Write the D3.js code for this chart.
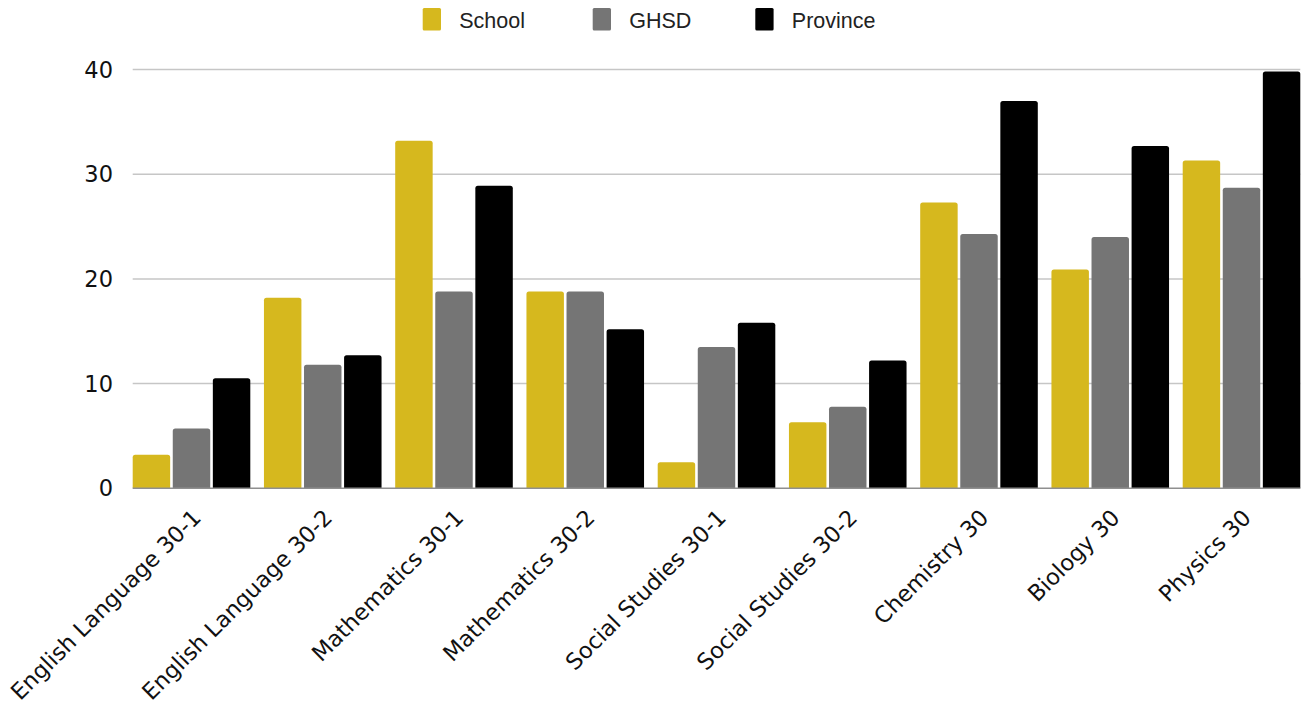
<!DOCTYPE html>
<html>
<head>
<meta charset="utf-8">
<script src="https://cdn.jsdelivr.net/npm/d3@7"></script>
<style>
  html, body { margin: 0; padding: 0; background: #fff; }
  svg { display: block; }
</style>
</head>
<body>
<svg id="chart" width="1302" height="712"></svg>
<script>
const categories = ["English Language 30-1", "English Language 30-2", "Mathematics 30-1", "Mathematics 30-2",
  "Social Studies 30-1", "Social Studies 30-2", "Chemistry 30", "Biology 30", "Physics 30"];
const seriesNames = ["School", "GHSD", "Province"];
const school   = [3.2, 18.2, 33.2, 18.8, 2.5, 6.3, 27.3, 20.9, 31.3];
const ghsd     = [5.7, 11.8, 18.8, 18.8, 13.5, 7.8, 24.3, 24.0, 28.7];
const province = [10.5, 12.7, 28.9, 15.2, 15.8, 12.2, 37.0, 32.7, 39.8];
const yTicks = [0, 10, 20, 30, 40];
const colors = ["#d6b81e", "#757575", "#000000"];

(function () {
const seriesValues = [school, ghsd, province];
const svg = d3.select("#chart");
const plotLeft = 132.7, plotRight = 1300.3, plotTop = 69.5, plotBottom = 488.3;
const axisFont = "'DejaVu Sans', 'Open Sans', sans-serif";

const x0 = d3.scaleBand().domain(categories).range([plotLeft, plotRight]).paddingInner(0.104).paddingOuter(0);
const x1 = d3.scaleBand().domain(seriesNames).range([0, x0.bandwidth()]).paddingInner(0.065).paddingOuter(0);
const y = d3.scaleLinear().domain([0, 40]).range([plotBottom, plotTop]);

// gridlines
svg.append("g").selectAll("line").data(yTicks.filter(d => d !== 0)).join("line")
  .attr("x1", plotLeft).attr("x2", plotRight)
  .attr("y1", d => y(d)).attr("y2", d => y(d))
  .attr("stroke", "#c6c6c6").attr("stroke-width", 1.5);

// y tick labels
svg.append("g").selectAll("text").data(yTicks).join("text")
  .attr("x", 113).attr("y", d => y(d))
  .attr("dy", "0.36em")
  .attr("text-anchor", "end")
  .attr("font-family", axisFont)
  .attr("font-size", 22.5)
  .attr("fill", "#111")
  .text(d => d);

// bars
function barPath(x, w, yTop, yBot, r) {
  r = Math.min(r, (yBot - yTop), w / 2);
  return `M${x},${yBot}V${yTop + r}Q${x},${yTop} ${x + r},${yTop}H${x + w - r}Q${x + w},${yTop} ${x + w},${yTop + r}V${yBot}Z`;
}
const groups = svg.append("g").selectAll("g").data(categories).join("g")
  .attr("transform", d => `translate(${x0(d)},0)`);
groups.selectAll("path").data((c, i) => seriesNames.map((s, j) => ({ s, v: seriesValues[j][i], j })))
  .join("path")
  .attr("d", d => barPath(x1(d.s), x1.bandwidth(), y(d.v), y(0), 2.5))
  .attr("fill", d => colors[d.j]);

// zero baseline
svg.append("line").attr("x1", plotLeft).attr("x2", plotRight).attr("y1", y(0)).attr("y2", y(0))
  .attr("stroke", "#8f8f8f").attr("stroke-width", 1.5);

// x labels
svg.append("g").selectAll("text").data(categories).join("text")
  .attr("transform", d => `translate(${x0(d) + x0.bandwidth() / 2 + 11},${519}) rotate(-45)`)
  .attr("text-anchor", "end")
  .attr("font-family", axisFont)
  .attr("font-size", 22.5)
  .attr("fill", "#111")
  .text(d => d);

// legend
const legendX = [422.7, 592.7, 755.3];
const leg = svg.append("g").selectAll("g").data(seriesNames).join("g")
  .attr("transform", (d, i) => `translate(${legendX[i]},8)`);
leg.append("rect").attr("width", 18.3).attr("height", 22.5).attr("rx", 1.5).attr("fill", (d, i) => colors[i]);
leg.append("text").attr("x", 36.5).attr("y", 19.5)
  .attr("font-family", "'Liberation Sans', Arial, sans-serif")
  .attr("font-size", 21.5).attr("fill", "#222")
  .text(d => d);
})();
</script>
</body>
</html>
